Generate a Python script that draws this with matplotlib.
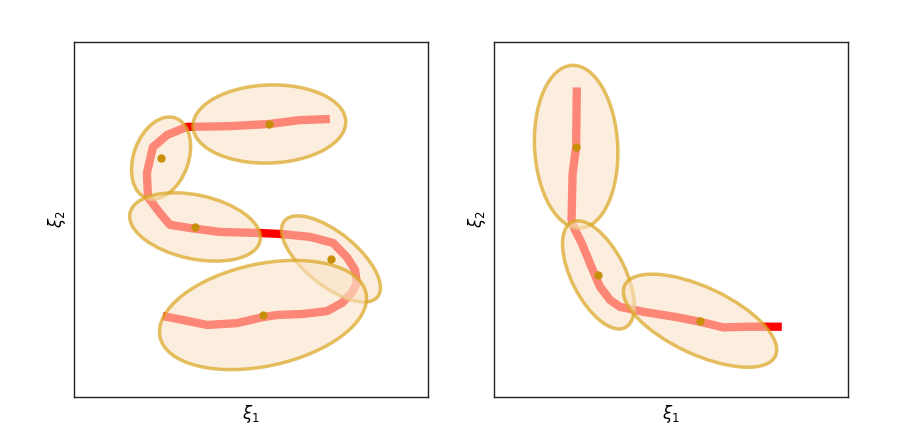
import numpy as np
import matplotlib.pyplot as plt
from matplotlib.patches import Ellipse

# --- left panel: trajectory and mixture components ---
left_x = [7.23, 6.38, 5.51, 4.41, 3.36, 3.19, 2.63, 2.23, 2.06, 2.09, 2.43, 2.71,
          3.28, 4.12, 5.25, 5.88, 6.67, 7.32, 7.71, 7.94, 7.99, 7.85, 7.57, 7.15,
          6.47, 5.73, 5.34, 4.60, 3.76, 3.08, 2.51]
left_y = [7.83, 7.80, 7.69, 7.63, 7.61, 7.61, 7.38, 7.04, 6.31, 5.63, 5.18, 4.85,
          4.76, 4.65, 4.62, 4.59, 4.51, 4.34, 3.94, 3.58, 3.21, 2.93, 2.65, 2.42,
          2.34, 2.31, 2.25, 2.08, 2.03, 2.17, 2.28]
left_mu_x = [5.52, 2.46, 3.42, 7.26, 5.34]
left_mu_y = [7.69, 6.73, 4.79, 3.89, 2.31]
left_w = [4.32, 2.40, 3.76, 3.39, 5.95]
left_h = [2.20, 1.55, 1.80, 1.49, 2.88]
left_ang = [2, 70, -12, -39, 12]

# --- right panel ---
right_x = [2.34, 2.32, 2.22, 2.19, 2.29, 2.48, 2.71, 2.99, 3.28, 3.56, 4.22,
           5.16, 5.82, 6.48, 7.14, 8.13]
right_y = [8.72, 7.04, 6.30, 4.99, 4.70, 4.33, 3.77, 3.11, 2.73, 2.54, 2.40,
           2.25, 2.12, 1.96, 1.98, 1.98]
right_mu_x = [2.32, 2.95, 5.82]
right_mu_y = [7.05, 3.44, 2.15]
right_w = [4.59, 3.33, 4.70]
right_h = [2.35, 1.52, 1.89]
right_ang = [93, 117, -25]

FACE = (251 / 255, 227 / 255, 200 / 255, 0.6)
EDGE = (218 / 255, 165 / 255, 32 / 255, 0.7)
DOT = '#c8900a'


def draw_panel(ax, xs, ys, mx, my, ws, hs, angs):
    ax.plot(xs, ys, color='red', lw=6, solid_capstyle='butt',
            solid_joinstyle='round', zorder=1)
    for cx, cy, w, h, a in zip(mx, my, ws, hs, angs):
        e = Ellipse((cx, cy), w, h, angle=a, facecolor=FACE,
                    edgecolor=EDGE, lw=2.5, zorder=2)
        ax.add_patch(e)
    ax.plot(mx, my, 'o', color=DOT, ms=5, zorder=3)
    ax.set_xlim(0, 10)
    ax.set_ylim(0, 10)
    ax.set_xticks([])
    ax.set_yticks([])
    for s in ax.spines.values():
        s.set_color('#222222')
        s.set_linewidth(1.0)
    ax.set_xlabel(r'$\xi_1$', fontsize=12)
    ax.set_ylabel(r'$\xi_2$', fontsize=12)


fig = plt.figure(figsize=(9, 4.43), dpi=100)
ax1 = fig.add_axes([0.0822, 0.1038, 0.3933, 0.8014])
ax2 = fig.add_axes([0.5489, 0.1038, 0.3933, 0.8014])

draw_panel(ax1, left_x, left_y, left_mu_x, left_mu_y, left_w, left_h, left_ang)
draw_panel(ax2, right_x, right_y, right_mu_x, right_mu_y, right_w, right_h, right_ang)

fig.savefig('out.png', dpi=100)
